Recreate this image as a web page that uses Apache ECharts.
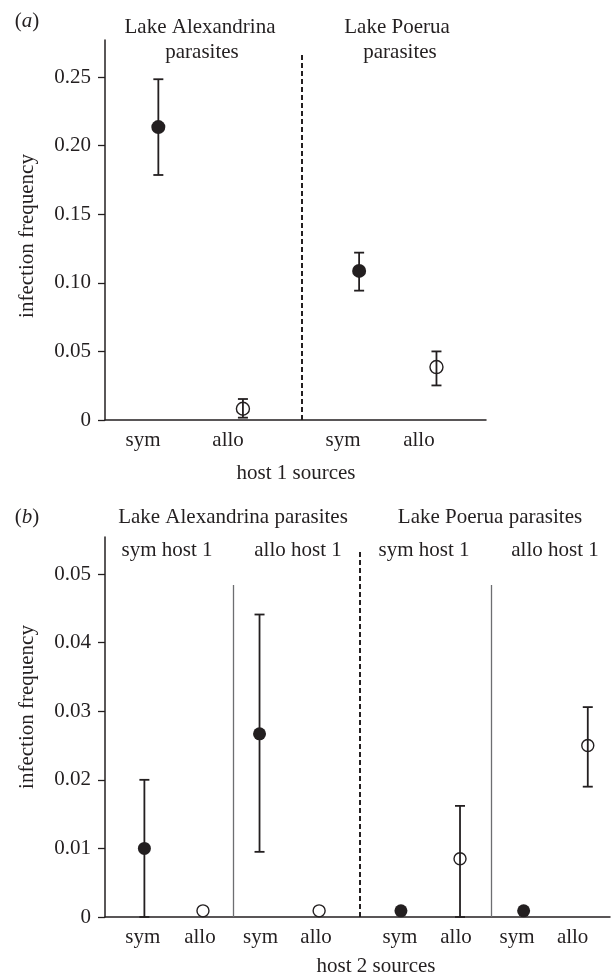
<!DOCTYPE html>
<html>
<head>
<meta charset="utf-8">
<script src="https://cdn.jsdelivr.net/npm/echarts@6/dist/echarts.min.js"></script>
<style>
  html, body { margin: 0; padding: 0; background: #fff; }
  #main { width: 611px; height: 976px; }
</style>
</head>
<body>
<div id="main"></div>
<script>
// panel (a): host 1 sources
var aLabels = ['sym', 'allo', 'sym', 'allo'];
var aLabelPos = [10.0, 32.3, 62.5, 82.4];
var aPos = [14.0, 36.2, 66.7, 87.0];
var aMean = [0.2135, 0.0082, 0.1087, 0.0386];
var aLow = [0.1786, 0.0017, 0.0943, 0.0252];
var aHigh = [0.2484, 0.0153, 0.1220, 0.0500];
var aTicks = [0, 0.05, 0.10, 0.15, 0.20, 0.25];

// panel (b): host 2 sources
var bLabels = ['sym', 'allo', 'sym', 'allo', 'sym', 'allo', 'sym', 'allo'];
var bLabelPos = [7.5, 18.8, 30.8, 41.8, 58.4, 69.5, 81.6, 92.6];
var bPos = [7.8, 19.4, 30.6, 42.4, 58.6, 70.3, 82.9, 95.6];
var bMean = [0.0100, 0.0009, 0.0267, 0.0009, 0.0009, 0.0085, 0.0009, 0.0250];
var bLow = [0, null, 0.0095, null, null, 0, null, 0.0190];
var bHigh = [0.0200, null, 0.0441, null, null, 0.0162, null, 0.0306];
var bTicks = [0, 0.01, 0.02, 0.03, 0.04, 0.05];

var INK = '#231f20';
var FONT = '"Liberation Serif", "DejaVu Serif", serif';
var FS = 21;

function pts(pos, mean, kind) {
  // sym = filled, allo = hollow
  var out = [];
  for (var i = 0; i < pos.length; i++) {
    if ((i % 2 === 0) === (kind === 'filled')) out.push([pos[i], mean[i]]);
  }
  return out;
}
function bars(pos, low, high) {
  var out = [];
  for (var i = 0; i < pos.length; i++) {
    if (low[i] != null) out.push([pos[i], low[i], high[i]]);
  }
  return out;
}
function renderErr(params, api) {
  var lo = api.coord([api.value(0), api.value(1)]);
  var hi = api.coord([api.value(0), api.value(2)]);
  var w = 5;
  var st = { stroke: INK, lineWidth: 1.8 };
  return {
    type: 'group',
    children: [
      { type: 'line', shape: { x1: lo[0], y1: lo[1], x2: hi[0], y2: hi[1] }, style: st },
      { type: 'line', shape: { x1: lo[0] - w, y1: lo[1], x2: lo[0] + w, y2: lo[1] }, style: st },
      { type: 'line', shape: { x1: hi[0] - w, y1: hi[1], x2: hi[0] + w, y2: hi[1] }, style: st }
    ]
  };
}
function vline(x, top, type, color) {
  return [{ coord: [x, 0], lineStyle: { type: type, color: color, width: type === 'solid' ? 1.3 : 2 } },
          { coord: [x, top] }];
}
function yLab(v) { return v === 0 ? '0' : v.toFixed(2); }

function xAxisFor(idx, labels, labelPos) {
  return {
    type: 'value', gridIndex: idx, min: 0, max: 100,
    axisLine: { show: true, lineStyle: { color: INK, width: 1.5 } },
    axisTick: { show: false },
    splitLine: { show: false },
    axisLabel: {
      customValues: labelPos, margin: 10,
      color: INK, fontFamily: FONT, fontSize: FS,
      formatter: function (v) { return labels[labelPos.indexOf(v)]; }
    }
  };
}
function yAxisFor(idx, max, ticks) {
  return {
    type: 'value', gridIndex: idx, min: 0, max: max,
    axisLine: { show: true, lineStyle: { color: INK, width: 1.5 } },
    axisTick: { show: true, customValues: ticks, length: 7, lineStyle: { color: INK, width: 1.3 } },
    splitLine: { show: false },
    axisLabel: { customValues: ticks, margin: 14, color: INK, fontFamily: FONT, fontSize: FS, formatter: yLab }
  };
}

function txt(s, x, y, rot) {
  return { type: 'text', x: x, y: y, rotation: rot || 0,
    style: { text: s, fill: INK, font: FS + 'px ' + FONT, align: 'center', verticalAlign: 'middle' } };
}
function tag(letter, x, y) {
  return { type: 'text', x: x, y: y,
    style: { text: '{n|(}{i|' + letter + '}{n|)}', fill: INK, align: 'center', verticalAlign: 'middle',
      rich: { n: { fontFamily: FONT, fontSize: FS, color: INK },
              i: { fontFamily: FONT, fontSize: FS, color: INK, fontStyle: 'italic' } } } };
}

var filledStyle = { color: INK, opacity: 1 };
var hollowStyle = { color: 'rgba(0,0,0,0)', borderColor: INK, borderWidth: 1.4, opacity: 1 };

var chart = echarts.init(document.getElementById('main'));
chart.setOption({
  backgroundColor: '#fff',
  animation: false,
  grid: [
    { left: 105, right: 125, top: 40, bottom: 556, outerBoundsMode: 'none' },
    { left: 105, right: 1, top: 537, bottom: 59, outerBoundsMode: 'none' }
  ],
  xAxis: [xAxisFor(0, aLabels, aLabelPos), xAxisFor(1, bLabels, bLabelPos)],
  yAxis: [yAxisFor(0, 0.277, aTicks), yAxisFor(1, 0.0554, bTicks)],
  graphic: [
    tag('a', 27, 21),
    txt('Lake Alexandrina', 200, 27),
    txt('parasites', 202, 52),
    txt('Lake Poerua', 397, 27),
    txt('parasites', 400, 52),
    txt('host 1 sources', 296, 473),
    txt('infection frequency', 27, 236, Math.PI / 2),
    tag('b', 27, 517),
    txt('Lake Alexandrina parasites', 233, 517),
    txt('Lake Poerua parasites', 490, 517),
    txt('sym host 1', 167, 550),
    txt('allo host 1', 298, 550),
    txt('sym host 1', 424, 550),
    txt('allo host 1', 555, 550),
    txt('host 2 sources', 376, 966),
    txt('infection frequency', 27, 707, Math.PI / 2)
  ],
  series: [
    { type: 'custom', xAxisIndex: 0, yAxisIndex: 0, renderItem: renderErr,
      data: bars(aPos, aLow, aHigh), encode: { x: 0, y: [1, 2] }, z: 2,
      markLine: { silent: true, symbol: 'none', label: { show: false },
        data: [vline(51.7, 0.2673, [5, 3], INK)] } },
    { type: 'scatter', xAxisIndex: 0, yAxisIndex: 0, symbolSize: 14, itemStyle: filledStyle,
      data: pts(aPos, aMean, 'filled'), z: 3 },
    { type: 'scatter', xAxisIndex: 0, yAxisIndex: 0, symbolSize: 13, itemStyle: hollowStyle,
      data: pts(aPos, aMean, 'hollow'), z: 3 },
    { type: 'custom', xAxisIndex: 1, yAxisIndex: 1, renderItem: renderErr,
      data: bars(bPos, bLow, bHigh), encode: { x: 0, y: [1, 2] }, z: 2,
      markLine: { silent: true, symbol: 'none', label: { show: false },
        data: [vline(25.3, 0.0484, 'solid', '#6d6e71'),
               vline(50.5, 0.0532, [5, 3], INK),
               vline(76.4, 0.0484, 'solid', '#6d6e71')] } },
    { type: 'scatter', xAxisIndex: 1, yAxisIndex: 1, symbolSize: 13, itemStyle: filledStyle,
      data: pts(bPos, bMean, 'filled'), z: 3 },
    { type: 'scatter', xAxisIndex: 1, yAxisIndex: 1, symbolSize: 12, itemStyle: hollowStyle,
      data: pts(bPos, bMean, 'hollow'), z: 3 }
  ]
});
</script>
</body>
</html>
